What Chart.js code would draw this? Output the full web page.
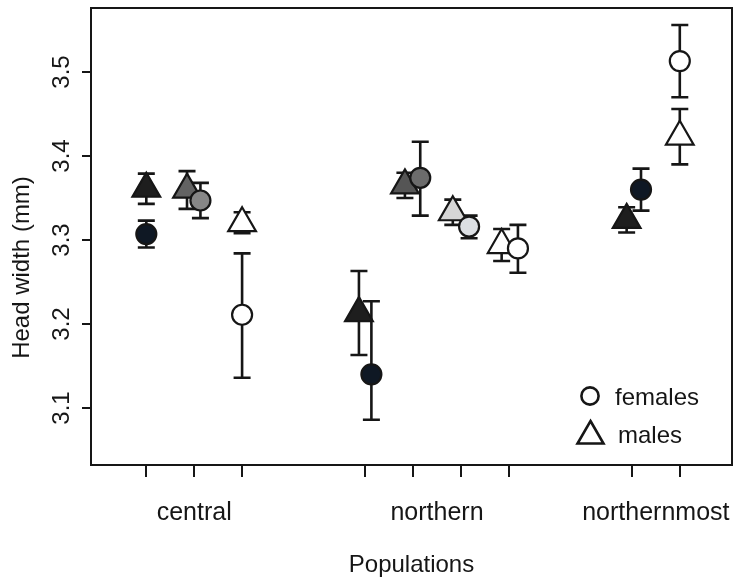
<!DOCTYPE html>
<html>
<head>
<meta charset="utf-8">
<title>Head width</title>
<script src="https://cdn.jsdelivr.net/npm/chart.js@4/dist/chart.umd.min.js"></script>
<style>
  html, body { margin: 0; padding: 0; background: #fff; }
  #wrap { width: 742px; height: 584px; }
</style>
</head>
<body>
<div id="wrap"><canvas id="headChart" width="742" height="584"></canvas></div>
<script>
// regions and how many populations sit in each
var groups = ["central", "northern", "northernmost"];
var popsPerGroup = [3, 4, 2];
var yTicks = [3.1, 3.2, 3.3, 3.4, 3.5];

// females (circles): mean and error bar ends, one value per population
var femaleMean = [3.307, 3.347, 3.211, 3.140, 3.374, 3.316, 3.290, 3.360, 3.513];
var femaleLow  = [3.291, 3.326, 3.136, 3.086, 3.329, 3.302, 3.261, 3.335, 3.470];
var femaleHigh = [3.323, 3.368, 3.284, 3.227, 3.417, 3.329, 3.318, 3.385, 3.556];

// males (triangles)
var maleMean = [3.361, 3.360, 3.320, 3.213, 3.365, 3.333, 3.294, 3.324, 3.423];
var maleLow  = [3.343, 3.337, 3.308, 3.163, 3.350, 3.318, 3.275, 3.309, 3.390];
var maleHigh = [3.379, 3.382, 3.333, 3.263, 3.380, 3.348, 3.313, 3.339, 3.456];

// small sideways dodge so overlapping symbols stay readable (axis units)
var femaleDodge = [0, 0.13, 0, 0.13, 0.15, 0.17, 0.19, 0.19, 0];
var maleDodge   = [0, -0.15, 0, -0.13, -0.17, -0.17, -0.15, -0.11, 0];

// symbol fills per population
var femaleFill = ["#0f1824", "#878787", "#ffffff", "#0f1824", "#6c6c6c", "#dcdfe3", "#ffffff", "#0f1824", "#ffffff"];
var maleFill   = ["#1e1e1e", "#636363", "#ffffff", "#1e1e1e", "#555555", "#d6d6d6", "#ffffff", "#1e1e1e", "#ffffff"];

var ink = "#161616";
var fontFam = "'Liberation Sans', Arial, Helvetica, sans-serif";
Chart.defaults.font.family = fontFam;
Chart.defaults.color = ink;

// x position of every population tick, with a wider gap between regions
var groupGap = 2.57;
var popX = [];
var groupMid = [];
var pos = 1;
for (var g = 0; g < groups.length; g++) {
	var start = pos;
	for (var k = 0; k < popsPerGroup[g]; k++) {
		popX.push(pos);
		pos += 1;
	}
	groupMid.push((start + pos - 1) / 2);
	pos += groupGap - 1;
}

var femalePts = []; var malePts = [];
for (var i = 0; i < popX.length; i++) {
	femalePts.push({x: popX[i] + femaleDodge[i], y: femaleMean[i]});
	malePts.push({x: popX[i] + maleDodge[i], y: maleMean[i]});
}

var xMin = -0.155, xMax = 13.23;

//error bars, drawn under the symbols
var errorBars = {
	id: 'errorBars',
	beforeDatasetsDraw: function(chart) {
		var ctx = chart.ctx, xs = chart.scales.x, ys = chart.scales.y;
		ctx.save();
		ctx.strokeStyle = ink;
		ctx.lineWidth = 2.6;
		function bar(x, lo, hi) {
			var px = xs.getPixelForValue(x);
			var p1 = ys.getPixelForValue(lo), p2 = ys.getPixelForValue(hi);
			ctx.beginPath();
			ctx.moveTo(px, p1); ctx.lineTo(px, p2);
			ctx.moveTo(px - 8.5, p1); ctx.lineTo(px + 8.5, p1);
			ctx.moveTo(px - 8.5, p2); ctx.lineTo(px + 8.5, p2);
			ctx.stroke();
		}
		for (var i = 0; i < popX.length; i++) {
			bar(malePts[i].x, maleLow[i], maleHigh[i]);
			bar(femalePts[i].x, femaleLow[i], femaleHigh[i]);
		}
		ctx.restore();
	}
};

//box round the plot, y title and legend
var decor = {
	id: 'decor',
	afterDraw: function(chart) {
		var ctx = chart.ctx, a = chart.chartArea;
		ctx.save();
		ctx.strokeStyle = ink;
		ctx.lineWidth = 2;
		ctx.strokeRect(a.left, a.top, a.right - a.left, a.bottom - a.top);

		ctx.fillStyle = ink;
		ctx.font = "24px " + fontFam;
		ctx.translate(22, (a.top + a.bottom) / 2 + 31);
		ctx.rotate(-Math.PI / 2);
		ctx.textAlign = 'center';
		ctx.textBaseline = 'middle';
		ctx.fillText("Head width (mm)", 0, 0);
		ctx.restore();

		// legend
		ctx.save();
		ctx.strokeStyle = ink;
		ctx.fillStyle = '#fff';
		ctx.lineWidth = 2.6;
		var cx = a.right - 142, cy = a.bottom - 69;
		ctx.beginPath();
		ctx.arc(cx, cy, 8.6, 0, Math.PI * 2);
		ctx.fill(); ctx.stroke();
		var tx = cx + 0.5, ty = a.bottom - 29, r = 15;
		ctx.beginPath();
		ctx.moveTo(tx, ty - r);
		ctx.lineTo(tx + r * 0.866, ty + r / 2);
		ctx.lineTo(tx - r * 0.866, ty + r / 2);
		ctx.closePath();
		ctx.fill(); ctx.stroke();
		ctx.fillStyle = ink;
		ctx.font = "24px " + fontFam;
		ctx.textAlign = 'left';
		ctx.textBaseline = 'alphabetic';
		ctx.fillText("females", cx + 25, a.bottom - 60);
		ctx.fillText("males", cx + 28, a.bottom - 22);
		ctx.restore();
	}
};

function noPad(s) {
	s.paddingLeft = 0; s.paddingRight = 0;
	s.paddingTop = 0; s.paddingBottom = 0;
}

var ctx = document.getElementById("headChart");

var headChart = new Chart(ctx, {
	type: 'scatter',
	data: {
		datasets: [
			{
				label: 'females',
				data: femalePts,
				pointStyle: 'circle',
				pointRadius: 10,
				pointHoverRadius: 10,
				pointBackgroundColor: femaleFill,
				pointBorderColor: ink,
				pointBorderWidth: 2.2,
				pointHoverBorderWidth: 2.2
			},
			{
				label: 'males',
				data: malePts,
				pointStyle: 'triangle',
				pointRadius: 16,
				pointHoverRadius: 16,
				pointBackgroundColor: maleFill,
				pointBorderColor: ink,
				pointBorderWidth: 2.2,
				pointHoverBorderWidth: 2.2
			}
		]
	},
	options: {
		responsive: false,
		animation: false,
		events: [],
		layout: { autoPadding: false, padding: { top: 8, right: 10, left: 0, bottom: 0 } },
		plugins: {
			legend: { display: false },
			tooltip: { enabled: false }
		},
		scales: {
			x: {
				type: 'linear',
				position: 'bottom',
				weight: 0,
				min: xMin,
				max: xMax,
				afterBuildTicks: function(s) {
					s.ticks = popX.map(function(v) { return {value: v}; });
				},
				afterFit: function(s) { s.height = 12; noPad(s); },
				ticks: { display: false },
				grid: { display: true, drawOnChartArea: false, drawTicks: true, tickLength: 12, lineWidth: 2, color: ink },
				border: { display: false }
			},
			xg: {
				type: 'linear',
				position: 'bottom',
				weight: 1,
				min: xMin,
				max: xMax,
				afterBuildTicks: function(s) {
					s.ticks = groupMid.map(function(v) { return {value: v}; });
				},
				afterFit: function(s) { s.height = 107; noPad(s); },
				ticks: {
					autoSkip: false,
					maxRotation: 0,
					padding: 21,
					font: { size: 25 },
					color: ink,
					callback: function(v, idx) { return groups[idx]; }
				},
				grid: { display: false, drawTicks: false },
				border: { display: false },
				title: {
					display: true,
					text: 'Populations',
					font: { size: 24 },
					color: ink,
					padding: { top: 0, bottom: 4 }
				}
			},
			y: {
				type: 'linear',
				position: 'left',
				min: 3.0321,
				max: 3.5762,
				afterBuildTicks: function(s) {
					s.ticks = yTicks.map(function(v) { return {value: v}; });
				},
				afterFit: function(s) { s.width = 91; noPad(s); },
				ticks: {
					minRotation: 90,
					maxRotation: 90,
					crossAlign: 'center',
					padding: 3,
					font: { size: 24 },
					color: ink,
					callback: function(v) { return v.toFixed(1); }
				},
				grid: { display: true, drawOnChartArea: false, drawTicks: true, tickLength: 9, lineWidth: 2, color: ink },
				border: { display: false }
			}
		}
	},
	plugins: [errorBars, decor]
});
</script>
</body>
</html>
